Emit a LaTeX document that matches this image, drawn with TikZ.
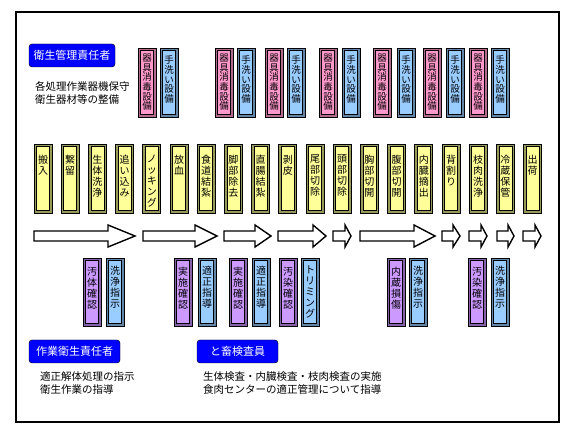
\documentclass[tikz,border=0pt]{standalone}
\usepackage{fontspec}
\newfontfamily\jp{Noto Sans CJK JP}
\usetikzlibrary{positioning}
\definecolor{ypale}{HTML}{FFFF99}
\definecolor{ppale}{HTML}{FF99CC}
\definecolor{bpale}{HTML}{99CCFF}
\definecolor{vpale}{HTML}{CC99FF}
\definecolor{hdrblue}{HTML}{0000FF}

\begin{document}
\begin{tikzpicture}[
  x=1pt, y=-1pt,
  font=\jp,
  bevel/.style 2 args={draw=black, line width=0.7pt, fill=#1!#2!black,
              minimum width=18pt, minimum height=69pt, inner sep=0pt,
              path picture={\draw[black, line width=0.5pt, fill=#1]
                ([shift={(2.5pt,-2.5pt)}]path picture bounding box.north west) rectangle
                ([shift={(-2.5pt,2.5pt)}]path picture bounding box.south east);}},
  yellowbox/.style={bevel={ypale}{60}},
  pinkbox/.style={bevel={ppale}{70}},
  bluebox/.style={bevel={bpale}{65}},
  purplebox/.style={bevel={vpale}{65}, minimum height=68pt},
  vtext/.style={align=center, inner sep=0pt, anchor=north,
                font=\jp\fontsize{10}{11}\selectfont},
  toptext/.style={vtext, font=\jp\fontsize{9.5}{9.7}\selectfont},
  hdr/.style={draw=black, fill=hdrblue, rounded corners=3pt, text=white,
              minimum height=23pt, inner sep=2pt, font=\jp\fontsize{11}{13}\selectfont},
  note/.style={align=left, anchor=north west, inner sep=0pt,
               font=\jp\fontsize{10.5}{13}\selectfont},
  fatarrow/.style={draw=black, line width=1.4pt, fill=white, line join=miter}
]
\useasboundingbox (0,0) rectangle (576,435);
\draw[line width=1.1pt] (16,12) rectangle (559,422);

% Managers and duties
\node[hdr, minimum width=86pt] (mgr) at (72,55.5) {衛生管理責任者};
\node[note] (mgrnote) at (35,81) {各処理作業器機保守\\衛生器材等の整備};
\node[hdr, minimum width=91pt] (work) at (74.5,351.5) {作業衛生責任者};
\node[note] (worknote) at (40,371) {適正解体処理の指示\\衛生作業の指導};
\node[hdr, minimum width=81pt] (insp) at (237.5,351.5) {と畜検査員};
\node[note] (inspnote) at (203,371) {生体検査・内臓検査・枝肉検査の実施\\食肉センターの適正管理について指導};

% Equipment
\foreach \p/\b [count=\k] in {138/160, 215/237, 265/287, 319/342, 373/397, 423/446, 469/491} {
  \node[pinkbox] (wash\k) at ({\p+9},82.5) {};
  \node[toptext, below=6pt of wash\k.north] {器\\具\\消\\毒\\設\\備};
  \node[bluebox] (hand\k) at ({\b+9},82.5) {};
  \node[toptext, below=8pt of hand\k.north] {手\\洗\\い\\設\\備};
}

% Process stages
\foreach \t [count=\i] in {搬\\入, 繋\\留, 生\\体\\洗\\浄, 追\\い\\込\\み, ノ\\ッ\\キ\\ン\\グ,
    放\\血, 食\\道\\結\\紮, 脚\\部\\除\\去, 直\\腸\\結\\紮, 剥\\皮, 尾\\部\\切\\除,
    頭\\部\\切\\除, 胸\\部\\切\\開, 腹\\部\\切\\開, 内\\臓\\摘\\出, 背\\割\\り,
    枝\\肉\\洗\\浄, 冷\\蔵\\保\\管, 出\\荷} {
  \node[yellowbox] (s\i) at ({43+(\i-1)*27.2},178.5) {};
  \node[vtext, below=11pt of s\i.north] {\t};
}

% Flow arrows
\foreach \a/\b/\h in {34/135/27, 143/217/22, 224/271/16, 278/326/13, 333/351/6,
    360/435/21, 442/460/7, 469/487/6, 497/514/6, 523/541/6} {
  \draw[fatarrow] (\a,231) -- ({\b-\h},231) -- ({\b-\h},225) -- (\b,236)
    -- ({\b-\h},247) -- ({\b-\h},241) -- (\a,241) -- cycle;
}

% Checks
\foreach \c/\g/\ct/\gt [count=\k] in {83/106/汚\\体\\確\\認/洗\\浄\\指\\示,
    174/198/実\\施\\確\\認/適\\正\\指\\導, 229/252/実\\施\\確\\認/適\\正\\指\\導,
    279/301/汚\\染\\確\\認/ト\\リ\\ミ\\ン\\グ, 387/409/内\\蔵\\損\\傷/洗\\浄\\指\\示,
    468/491/汚\\染\\確\\認/洗\\浄\\指\\示} {
  \node[purplebox] (chk\k) at ({\c+9},292) {};
  \node[vtext, below=9pt of chk\k.north] {\ct};
  \node[bluebox, minimum height=68pt] (dir\k) at ({\g+9},292) {};
  \node[vtext, below=8pt of dir\k.north] {\gt};
}
\end{tikzpicture}
\end{document}
